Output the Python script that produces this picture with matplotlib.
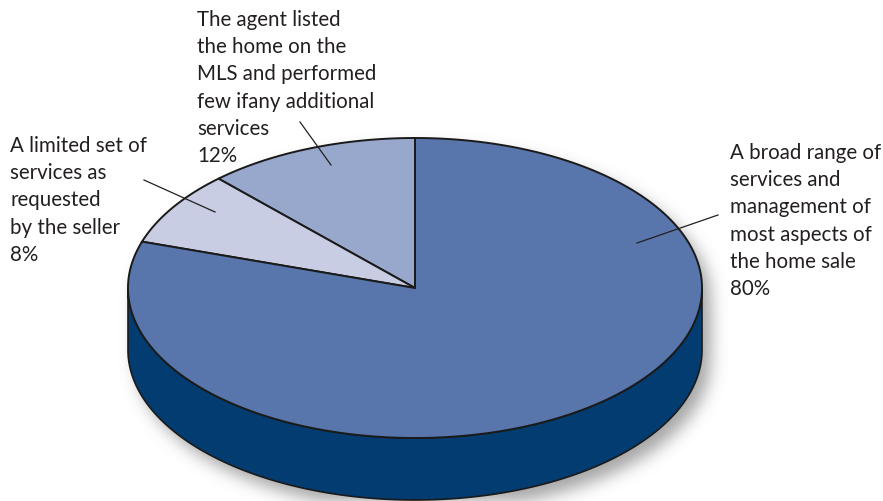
import numpy as np
import matplotlib
matplotlib.use("Agg")
import matplotlib.pyplot as plt
from matplotlib.patches import Polygon

# Share of sellers by level of service provided by the agent
labels = [
    "The agent listed\nthe home on the\nMLS and performed\nfew ifany additional\nservices",
    "A limited set of\nservices as\nrequested\nby the seller",
    "A broad range of\nservices and\nmanagement of\nmost aspects of\nthe home sale",
]
shares = [12, 8, 80]
top_colors = ["#98A7CC", "#C8CDE4", "#5876AB"]
side_color = "#033C71"

W, H = 883, 502
fig = plt.figure(figsize=(W / 100, H / 100), dpi=100)
ax = fig.add_axes([0, 0, 1, 1])
ax.set_xlim(0, W)
ax.set_ylim(H, 0)
ax.axis("off")

# pie geometry (pixel space)
cx, cy = 415, 289
a, b = 287, 150
depth = 62
start = 90.0


def ell(theta_deg, dy=0.0):
    t = np.radians(theta_deg)
    return cx + a * np.cos(t), cy - b * np.sin(t) + dy


# soft drop shadow behind the pie body
yy, xx = np.mgrid[0:H, 0:W]
sx, sy = 8, 10
inside = (((xx - cx - sx) / a) ** 2 + ((yy - cy - sy) / b) ** 2 <= 1) | \
         (((xx - cx - sx) / a) ** 2 + ((yy - cy - depth - sy) / b) ** 2 <= 1) | \
         ((np.abs(xx - cx - sx) <= a) & (yy >= cy + sy) & (yy <= cy + depth + sy))
mask = inside.astype(float)
k = np.exp(-0.5 * (np.arange(-30, 31) / 8.0) ** 2)
k /= k.sum()
blur = np.apply_along_axis(lambda r: np.convolve(r, k, mode="same"), 1, mask)
blur = np.apply_along_axis(lambda c: np.convolve(c, k, mode="same"), 0, blur)
rgba = np.zeros((H, W, 4))
rgba[..., :3] = 0.3
rgba[..., 3] = blur * 0.5
ax.imshow(rgba, extent=(0, W, H, 0), zorder=0, interpolation="bilinear")

# visible side wall (front half)
th = np.linspace(180, 360, 300)
top_x, top_y = ell(th)
bot_x, bot_y = ell(th[::-1], depth)
side = Polygon(np.column_stack([np.r_[top_x, bot_x], np.r_[top_y, bot_y]]),
               closed=True, facecolor=side_color, edgecolor="#1a1a1a", lw=1.2, zorder=2)
ax.add_patch(side)

# top face wedges, counter-clockwise from 12 o'clock
angle = start
for val, col in zip(shares, top_colors):
    sweep = val / sum(shares) * 360
    th = np.linspace(angle, angle + sweep, max(int(sweep * 3), 10))
    ex, ey = ell(th)
    pts = np.column_stack([np.r_[cx, ex], np.r_[cy, ey]])
    ax.add_patch(Polygon(pts, closed=True, facecolor=col, edgecolor="#1a1a1a",
                         lw=1.4, joinstyle="miter", zorder=3))
    angle += sweep

font = dict(family="Lato", fontsize=14.8, color="#231f20", linespacing=1.45,
            va="top", ha="left", zorder=5)

# labels with leader lines
label_pos = [(197, 10), (10, 136), (730, 143)]
leaders = [((300, 123), (331, 166)), ((144, 181), (215, 213)), ((718, 216), (637, 244))]
for lab, val, (lx, ly), ((x0, y0), (x1, y1)) in zip(labels, shares, label_pos, leaders):
    ax.text(lx, ly, f"{lab}\n{val}%", **font)
    ax.plot([x0, x1], [y0, y1], color="#231f20", lw=0.9, zorder=4)

fig.savefig("out.png", dpi=100, facecolor="white")
